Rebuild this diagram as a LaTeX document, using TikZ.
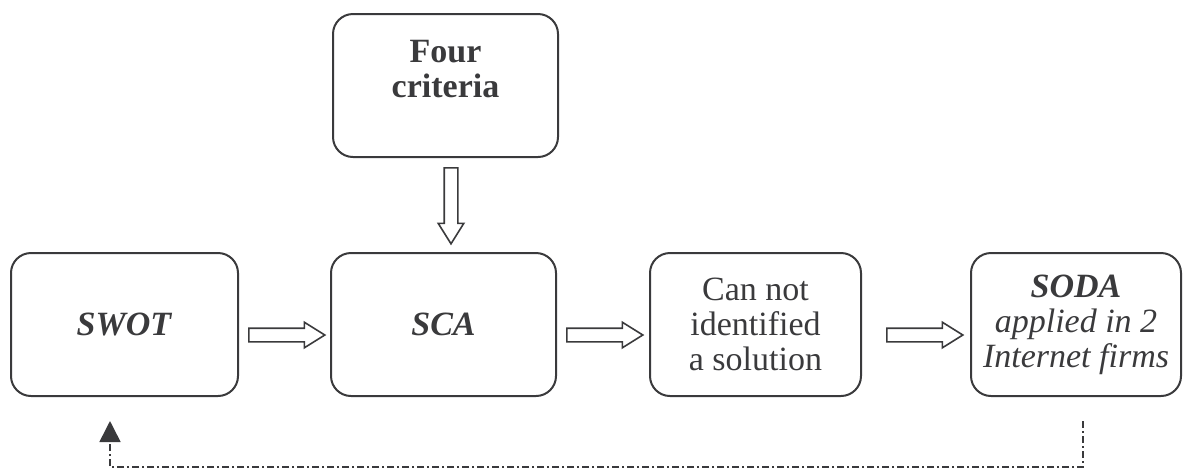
\documentclass[tikz,border=0pt]{standalone}
\usepackage{fontspec}
\setmainfont{Liberation Serif}
\usetikzlibrary{shapes.arrows,arrows.meta,calc}
\definecolor{ink}{HTML}{3A3A3C}
\begin{document}
\begin{tikzpicture}[x=0.5pt,y=-0.5pt,
  box/.style={draw=ink, line width=1pt, rounded corners=10pt, align=center,
    font=\fontsize{17}{17.5}\selectfont, text=ink, inner sep=0pt, minimum height=71.5pt},
  blockarrow/.style={single arrow, draw=ink, line width=0.8pt, minimum height=38pt,
    inner xsep=0pt, inner ysep=3pt, single arrow head extend=3pt, single arrow tip angle=64, anchor=west},
  fb/.style={draw=ink, line width=0.8pt, dash pattern=on 3.5pt off 1.5pt on 1pt off 1.5pt},
]
\useasboundingbox (0,0) rectangle (1192,468);
\node[box, minimum width=112.5pt, text depth=17pt] (four) at (445.5,85.5) {\textbf{Four}\\\textbf{criteria}};
\node[box, minimum width=113.5pt] (swot) at (124.5,324.5) {\textbf{\textit{SWOT}}};
\node[box, minimum width=112.5pt] (sca) at (443.5,324.5) {\textbf{\textit{SCA}}};
\node[box, minimum width=105.5pt] (can) at (755.5,324.5) {Can not\\identified\\a solution};
\node[box, minimum width=105pt] (soda) at (1076,324.5) {\textbf{\textit{SODA}}\\\textit{applied in 2}\\\textit{Internet firms}};
\node[blockarrow] (a1) at ($(swot.east)+(9,10.5)$) {};
\node[blockarrow] (a2) at ($(sca.east)+(9,10.5)$) {};
\node[blockarrow] (a3) at ($(can.east)+(24,10.5)$) {};
\node[blockarrow, rotate=-90] (a4) at ($(four.south)+(5.5,9)$) {};
\coordinate (fbstart) at ($(soda.south)+(7,24)$);
\coordinate (fbend) at ($(swot.south)+(-14.5,24)$);
\draw[fb, -{Triangle[width=10.5pt,length=10.5pt]}] (fbstart) -- ++(0,46) -| (fbend);
\end{tikzpicture}
\end{document}
